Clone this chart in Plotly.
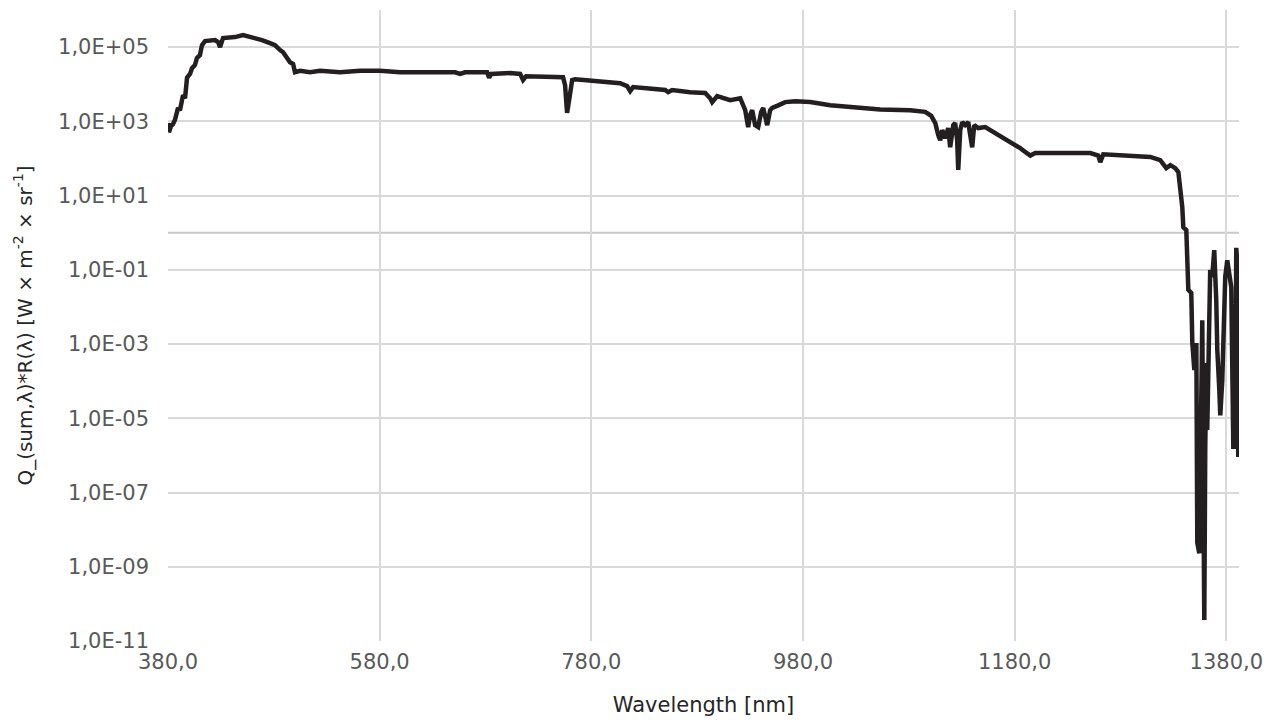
import plotly.graph_objects as go

wavelength_nm = [
    380.0, 380.9, 382.8, 384.7, 386.6, 388.5, 389.5, 391.3, 394.2, 396.1,
    398.0, 400.8, 402.7, 405.5, 407.4, 410.2, 412.1, 415.0, 419.7, 424.4,
    427.3, 429.2, 432.0, 436.7, 443.3, 450.9, 459.4, 468.8, 476.4, 481.1,
    485.9, 488.7, 492.5, 495.3, 498.2, 500.0, 504.8, 514.2, 523.7, 542.6,
    561.5, 580.4, 599.3, 618.2, 637.1, 651.3, 656.0, 660.7, 681.5, 683.4,
    685.3, 703.3, 712.7, 715.5, 718.4, 736.3, 753.3, 755.2, 757.1, 759.0,
    761.9, 764.7, 788.3, 807.2, 813.8, 816.7, 819.5, 835.6, 849.8, 852.6,
    856.4, 873.4, 887.6, 892.3, 894.2, 898.9, 906.5, 911.2, 920.7, 925.4,
    928.2, 930.1, 932.0, 934.8, 937.7, 940.5, 942.4, 944.3, 946.2, 949.0,
    950.9, 956.6, 963.2, 972.6, 986.8, 1005.7, 1024.6, 1053.0, 1081.3, 1095.5,
    1101.2, 1105.0, 1107.8, 1109.7, 1111.6, 1114.4, 1117.2, 1119.1, 1122.0, 1123.8,
    1125.7, 1126.7, 1128.6, 1130.5, 1133.3, 1136.2, 1138.0, 1139.9, 1141.8, 1145.6,
    1152.2, 1156.9, 1161.7, 1166.4, 1171.1, 1175.8, 1180.6, 1185.3, 1190.0, 1194.8,
    1199.5, 1223.1, 1251.5, 1259.0, 1260.9, 1263.8, 1289.3, 1308.2, 1317.6, 1320.5,
    1323.3, 1327.1, 1331.8, 1334.7, 1336.5, 1338.4, 1339.4, 1342.2, 1344.1, 1346.9,
    1347.9, 1349.8, 1351.7, 1352.6, 1354.5, 1356.4, 1357.3, 1358.3, 1359.2, 1360.1,
    1361.1, 1362.0, 1363.9, 1364.8, 1366.7, 1368.6, 1370.5, 1371.5, 1373.4, 1374.3,
    1376.2, 1377.1, 1379.0, 1380.9, 1381.9, 1384.7, 1386.6, 1388.5, 1389.4, 1390.4,
    1391.3,
]

q_sum_r = [
    9.0e2, 5.1e2, 7.4e2, 8.4e2, 1.1e3, 1.8e3, 2.3e3, 2.0e3, 5.1e3, 4.2e3,
    1.5e4, 1.9e4, 2.7e4, 3.3e4, 5.1e4, 6.1e4, 1.13e5, 1.45e5, 1.45e5, 1.55e5,
    1.37e5, 1.0e5, 1.75e5, 1.75e5, 1.86e5, 2.1e5, 1.86e5, 1.55e5, 1.28e5, 1.13e5,
    8.3e4, 7.3e4, 5.1e4, 3.9e4, 3.5e4, 2.1e4, 2.3e4, 2.1e4, 2.3e4, 2.1e4,
    2.3e4, 2.3e4, 2.1e4, 2.1e4, 2.1e4, 2.1e4, 1.9e4, 2.1e4, 2.1e4, 1.5e4,
    1.9e4, 2.0e4, 1.9e4, 1.3e4, 1.65e4, 1.65e4, 1.55e4, 9.5e3, 1.7e3, 3.7e3,
    1.3e4, 1.37e4, 1.2e4, 1.07e4, 8.9e3, 6.5e3, 8.4e3, 7.9e3, 7.0e3, 6.1e3,
    7.0e3, 6.1e3, 5.8e3, 4.2e3, 3.3e3, 4.8e3, 4.0e3, 3.7e3, 4.2e3, 2.0e3,
    7.0e2, 1.5e3, 2.0e3, 7.9e2, 7.0e2, 1.8e3, 2.3e3, 1.2e3, 7.9e2, 2.0e3,
    2.3e3, 2.7e3, 3.3e3, 3.5e3, 3.3e3, 2.7e3, 2.4e3, 2.1e3, 2.0e3, 1.8e3,
    1.4e3, 9.0e2, 4.3e2, 3.1e2, 5.8e2, 3.5e2, 6.6e2, 2.0e2, 7.9e2, 9.0e2,
    3.1e2, 4.9e1, 5.8e2, 9.5e2, 7.9e2, 9.5e2, 4.3e2, 2.0e2, 7.9e2, 6.6e2,
    7.0e2, 5.8e2, 5.1e2, 4.0e2, 3.5e2, 2.8e2, 2.3e2, 1.9e2, 1.5e2, 1.2e2,
    1.4e2, 1.4e2, 1.4e2, 1.2e2, 8.0e1, 1.3e2, 1.2e2, 1.1e2, 9.0e1, 7.0e1,
    5.5e1, 6.6e1, 5.5e1, 4.3e1, 1.9e1, 4.9e0, 1.4e0, 1.18e0, 2.9e-2, 2.4e-2,
    1.06e-3, 2.0e-4, 1.06e-3, 4.4e-9, 2.3e-9, 3.1e-5, 4.4e-3, 2.2e-7, 3.7e-11, 1.4e-6,
    3.1e-4, 4.8e-6, 2.4e-3, 9.8e-2, 6.4e-2, 3.4e-1, 1.5e-2, 6.9e-4, 5.8e-5, 1.2e-5,
    1.07e-4, 6.9e-4, 6.4e-2, 1.8e-1, 9.8e-2, 3.4e-2, 1.7e-6, 1.7e-6, 3.9e-1, 1.5e-1,
    9.0e-7,
]

x_ticks = [380, 580, 780, 980, 1180, 1380]
x_tick_text = ["380,0", "580,0", "780,0", "980,0", "1180,0", "1380,0"]
y_ticks = [1e5, 1e3, 1e1, 1e-1, 1e-3, 1e-5, 1e-7, 1e-9, 1e-11]
y_tick_text = ["1,0E+05", "1,0E+03", "1,0E+01", "1,0E-01", "1,0E-03",
               "1,0E-05", "1,0E-07", "1,0E-09", "1,0E-11"]

FONT = "DejaVu Sans"

fig = go.Figure()
fig.add_trace(go.Scatter(
    x=wavelength_nm, y=q_sum_r, mode="lines",
    line=dict(color="#231f20", width=4.5),
    showlegend=False, hoverinfo="x+y",
))

fig.add_shape(type="line", xref="paper", x0=0, x1=1, yref="y", y0=1, y1=1,
              line=dict(color="#c8c8c8", width=2), layer="below")

fig.update_layout(
    width=1267, height=724,
    margin=dict(l=168, r=28, t=10, b=83, autoexpand=False),
    paper_bgcolor="white", plot_bgcolor="white",
    font=dict(family=FONT, color="#595959", size=21),
)
fig.update_xaxes(
    range=[380, 1392], tickvals=x_ticks, ticktext=x_tick_text,
    showgrid=True, gridcolor="#d9d9d9", gridwidth=2,
    zeroline=False, showline=False, ticks="", automargin=False,
    ticklabelstandoff=6,
    tickfont=dict(family=FONT, size=21, color="#595959"),
    title=dict(text="Wavelength [nm]", font=dict(family=FONT, size=21, color="#262626"),
               standoff=24),
)
fig.update_yaxes(
    type="log", range=[-11, 6], tickvals=y_ticks, ticktext=y_tick_text,
    showgrid=True, gridcolor="#d9d9d9", gridwidth=2,
    zeroline=False, showline=False, ticks="", automargin=False,
    ticklabelstandoff=18,
    tickfont=dict(family=FONT, size=21, color="#595959"),
    title=dict(text="Q_(sum,λ)*R(λ) [W × m<sup>-2</sup> × sr<sup>-1</sup>]",
               font=dict(family=FONT, size=20, color="#262626"), standoff=20),
)

fig.write_html("out.html")
